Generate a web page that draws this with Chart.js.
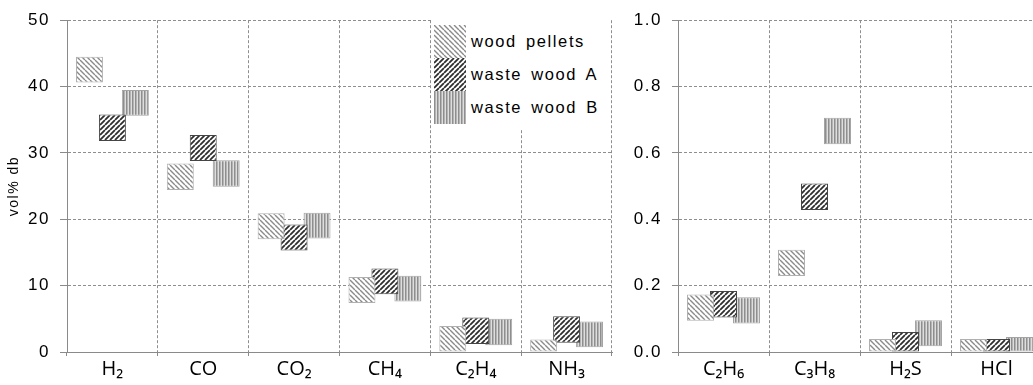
<!DOCTYPE html>
<html>
<head>
<meta charset="utf-8">
<script src="https://cdn.jsdelivr.net/npm/chart.js@4.4.1/dist/chart.umd.min.js"></script>
<style>
  html, body { margin:0; padding:0; background:#fff; width:1033px; height:385px; overflow:hidden; }
  #wrap { position:relative; width:1033px; height:385px; overflow:hidden; }
  #cl { position:absolute; left:0; top:0; }
  #cr { position:absolute; left:600px; top:0; }
  #legend { position:absolute; left:431px; top:18px; width:180px; height:112px; background:#fff;
            font-family:"Liberation Sans", Arial, sans-serif; font-size:16.5px; color:#000; }
  .sw { position:absolute; left:3px; width:32px; height:33px; }
  .lt { position:absolute; left:40px; height:33px; line-height:33px; white-space:nowrap;
        letter-spacing:1.6px; word-spacing:3px; }
</style>
</head>
<body>
<div id="wrap">
  <canvas id="cl" width="620" height="385"></canvas>
  <canvas id="cr" width="450" height="385"></canvas>
  <div id="legend"></div>
</div>
<script>
// ---------------- data ----------------
const seriesNames = ['wood pellets', 'waste wood A', 'waste wood B'];

const mainCategories = ['H\u2082', 'CO', 'CO\u2082', 'CH\u2084', 'C\u2082H\u2084', 'NH\u2083'];
const mainTicks = ['0', '10', '20', '30', '40', '50'];
// [low, high] ranges, vol% db
const woodPelletsMain = [[40.6, 44.5], [24.4, 28.4], [17.0, 20.9], [7.4, 11.3], [0, 3.9], [0, 1.9]];
const wasteWoodAMain  = [[31.8, 35.8], [28.8, 32.7], [15.3, 19.2], [8.7, 12.6], [1.2, 5.2], [1.4, 5.4]];
const wasteWoodBMain  = [[35.6, 39.5], [24.9, 28.9], [17.1, 21.0], [7.6, 11.5], [1.0, 5.0], [0.7, 4.6]];

const traceCategories = ['C\u2082H\u2086', 'C\u2083H\u2088', 'H\u2082S', 'HCl'];
const traceTicks = ['0.0', '0.2', '0.4', '0.6', '0.8', '1.0'];
const woodPelletsTrace = [[0.094, 0.173], [0.229, 0.308], [0, 0.039], [0, 0.039]];
const wasteWoodATrace  = [[0.104, 0.184], [0.428, 0.508], [0, 0.060], [0, 0.039]];
const wasteWoodBTrace  = [[0.086, 0.165], [0.626, 0.706], [0.017, 0.096], [0, 0.045]];

// ---------------- styles ----------------
const gridColor = '#8e8e8e';
const axisColor = '#8a8a8a';
const tickFont = { family: '"Liberation Sans", Arial, sans-serif', size: 17 };
const catFont = { family: '"Open Sans", "Noto Sans", "DejaVu Sans", sans-serif', size: 20 };

function makePattern(kind) {
  const c = document.createElement('canvas');
  const ctx = c.getContext('2d');
  if (kind === 'wb') {
    c.width = 3; c.height = 4;
    ctx.fillStyle = '#dedede'; ctx.fillRect(0, 0, 3, 4);
    ctx.fillStyle = '#8e8e8e'; ctx.fillRect(0, 0, 1, 4);
    ctx.fillStyle = '#b4b4b4'; ctx.fillRect(1, 0, 1, 4);
    return ctx.createPattern(c, 'repeat');
  }
  const s = 5;
  c.width = s; c.height = s;
  ctx.fillStyle = '#ffffff'; ctx.fillRect(0, 0, s, s);
  ctx.strokeStyle = kind === 'wp' ? '#8a8a8a' : '#2f2f2f';
  ctx.lineWidth = kind === 'wp' ? 1.4 : 1.8;
  ctx.beginPath();
  for (let k = -s; k <= s; k += s) {
    if (kind === 'wp') { ctx.moveTo(k, 0); ctx.lineTo(k + s, s); }
    else { ctx.moveTo(k, s); ctx.lineTo(k + s, 0); }
  }
  ctx.stroke();
  return ctx.createPattern(c, 'repeat');
}
const fills = [makePattern('wp'), makePattern('wa'), makePattern('wb')];
const borders = ['#b0b0b0', '#454545', '#a4a4a4'];

function datasets(arrs) {
  return arrs.map((d, i) => ({
    label: seriesNames[i],
    data: d,
    backgroundColor: fills[i],
    borderColor: borders[i],
    borderWidth: 1,
    borderSkipped: false,
    categoryPercentage: 0.758,
    barPercentage: 1.174
  }));
}

// wider lettering on the value axis only, like the reference's stretched digits
const spacingPlugin = {
  id: 'spacing',
  afterLayout(chart) {
    const y = chart.scales.y;
    if (!y || y._spaced) return;
    const wrap = name => {
      const orig = y[name];
      y[name] = function (...args) {
        this.ctx.letterSpacing = '1.5px';
        orig.apply(this, args);
        this.ctx.letterSpacing = '0px';
      };
    };
    wrap('drawLabels');
    wrap('drawTitle');
    y._spaced = true;
  }
};

function buildOptions(cfg) {
  return {
    responsive: false,
    animation: false,
    events: [],
    layout: { padding: { top: cfg.top, right: 8, left: 0, bottom: 0 } },
    plugins: { legend: { display: false }, tooltip: { enabled: false } },
    scales: {
      x: {
        offset: true,
        grid: {
          offset: true,
          color: c => (c.index === 0 ? 'rgba(0,0,0,0)' : gridColor),
          tickColor: axisColor,
          tickLength: 4
        },
        border: { color: axisColor, dash: [3, 2] },
        ticks: { font: catFont, color: '#000', padding: 1, maxRotation: 0, autoSkip: false },
        afterFit(s) { s.height = 33; }
      },
      y: {
        min: 0, max: cfg.max,
        ticks: {
          stepSize: cfg.step, font: tickFont, color: '#000', padding: 10,
          callback: (v, i) => cfg.labels[i]
        },
        grid: {
          color: c => (c.tick && c.tick.value === 0 ? 'rgba(0,0,0,0)' : gridColor),
          tickColor: axisColor,
          tickLength: cfg.tickLen
        },
        border: { color: axisColor, dash: [3, 2] },
        title: cfg.title ? {
          display: true, text: cfg.title, color: '#000',
          font: { family: '"Liberation Sans", Arial, sans-serif', size: 14 },
          padding: { top: 6, bottom: 0 }
        } : { display: false },
        afterFit(s) { s.width = cfg.yWidth; }
      }
    }
  };
}

new Chart(document.getElementById('cl'), {
  type: 'bar',
  data: { labels: mainCategories, datasets: datasets([woodPelletsMain, wasteWoodAMain, wasteWoodBMain]) },
  options: buildOptions({ top: 17, max: 50, step: 10, labels: mainTicks, tickLen: 7, yWidth: 67, title: 'vol% db' }),
  plugins: [spacingPlugin]
});

new Chart(document.getElementById('cr'), {
  type: 'bar',
  data: { labels: traceCategories, datasets: datasets([woodPelletsTrace, wasteWoodATrace, wasteWoodBTrace]) },
  options: buildOptions({ top: 19, max: 1, step: 0.2, labels: traceTicks, tickLen: 6, yWidth: 78, title: null }),
  plugins: [spacingPlugin]
});

// ---------------- legend ----------------
const legend = document.getElementById('legend');
seriesNames.forEach((name, i) => {
  const sw = document.createElement('canvas');
  sw.width = 32; sw.height = 33; sw.className = 'sw';
  sw.style.top = (7 + i * 33) + 'px';
  const sctx = sw.getContext('2d');
  sctx.fillStyle = fills[i];
  sctx.fillRect(0, 0, 32, 33);
  legend.appendChild(sw);
  const t = document.createElement('div');
  t.className = 'lt';
  t.style.top = (7 + i * 33) + 'px';
  t.textContent = name;
  legend.appendChild(t);
});
</script>
</body>
</html>
